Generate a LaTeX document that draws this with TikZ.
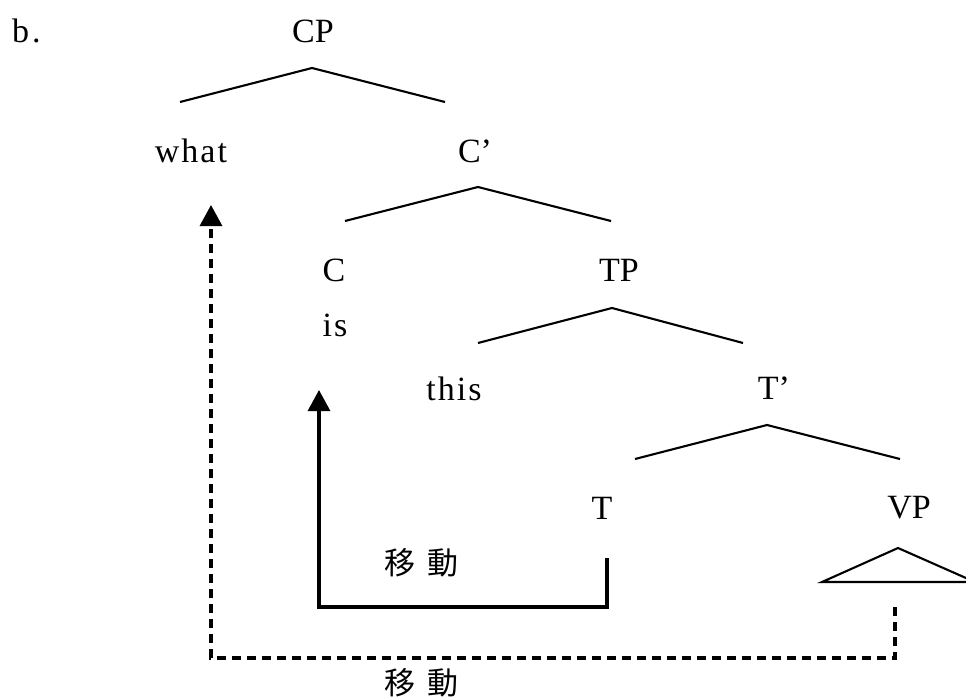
\documentclass[tikz,border=0pt]{standalone}
\usepackage{fontspec}
\setmainfont{Liberation Serif}
\newfontfamily\cjk{Noto Sans CJK TC}
\usetikzlibrary{arrows.meta}
\begin{document}
\begin{tikzpicture}[x=1pt,y=-1pt,
  lbl/.style={inner sep=0pt,anchor=base,font=\fontsize{34}{40}\selectfont},
  wide/.style={lbl,font=\fontsize{34}{40}\selectfont\addfontfeature{LetterSpace=6}},
  zh/.style={inner sep=0pt,font=\fontsize{31}{37}\selectfont\cjk},
  branch/.style={line width=2.1pt},
  move/.style={line width=3.1pt,-{Triangle[length=21pt,width=22pt]}},
  movedash/.style={move,dash pattern=on 9pt off 6pt}]
\useasboundingbox (0,0) rectangle (966,698);

% labels
\node[lbl,anchor=base west] (ex) at (12,43) {b\hspace{3pt}.};
\node[lbl] (CP) at (313,43) {CP};
\node[wide] (what) at (191,162) {what};
\node[lbl] (Cbar) at (475,162) {C’};
\node[lbl] (C) at (334,281) {C};
\node[wide] (is) at (335,336) {is};
\node[lbl] (TP) at (619,281) {TP};
\node[wide] (this) at (454,400) {this};
\node[lbl] (Tbar) at (774,399) {T’};
\node[lbl] (T) at (602,519) {T};
\node[lbl] (VP) at (909,518) {VP};
\node[zh] (mv1) at (421,563) {移\hspace{12pt}動};
\node[zh] (mv2) at (421,683) {移\hspace{12pt}動};

% branch points
\coordinate (cpA) at (312,68);  \coordinate (cpL) at (180,102); \coordinate (cpR) at (445,102);
\coordinate (cbA) at (478,187); \coordinate (cbL) at (345,221); \coordinate (cbR) at (611,221);
\coordinate (tpA) at (612,308); \coordinate (tpL) at (478,343); \coordinate (tpR) at (743,343);
\coordinate (tbA) at (767,425); \coordinate (tbL) at (635,459); \coordinate (tbR) at (900,459);
\coordinate (vpA) at (898,548); \coordinate (vpL) at (822,582); \coordinate (vpR) at (975,582);

\draw[branch] (cpL) -- (cpA) -- (cpR);
\draw[branch] (cbL) -- (cbA) -- (cbR);
\draw[branch] (tpL) -- (tpA) -- (tpR);
\draw[branch] (tbL) -- (tbA) -- (tbR);
\draw[branch] (vpL) -- (vpA) -- (vpR) -- cycle;

% movement paths
\coordinate (tFoot) at (607,558);
\coordinate (tCorner) at (607,607);
\coordinate (isCorner) at (319,607);
\coordinate (isTip) at (319,390);
\draw[move] (tFoot) -- (tCorner) -- (isCorner) -- (isTip);

\coordinate (vpFoot) at (895,607);
\coordinate (vpCorner) at (895,658);
\coordinate (whCorner) at (211,658);
\coordinate (whTip) at (211,205);
\draw[movedash] (vpFoot) -- (vpCorner) -- (whCorner) -- (whTip);
\end{tikzpicture}
\end{document}
